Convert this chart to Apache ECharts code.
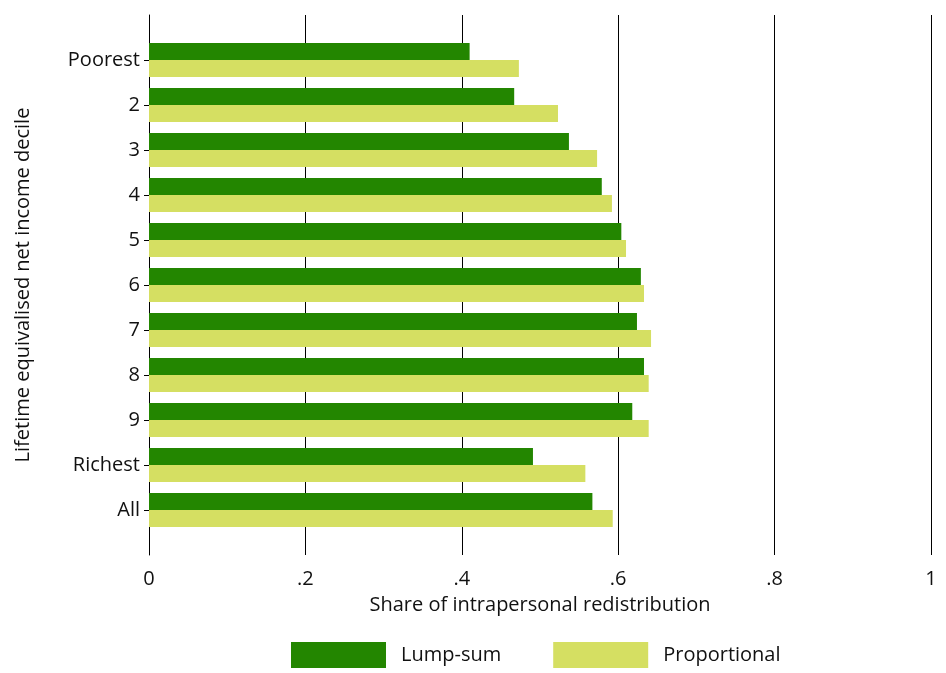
<!DOCTYPE html><html><head><meta charset="utf-8"><script src="https://cdn.jsdelivr.net/npm/echarts@6/dist/echarts.min.js"></script></head><body style="margin:0"><div id="c" style="width:946px;height:673px"></div><script>
const categories=['Poorest','2','3','4','5','6','7','8','9','Richest','All'];
const lumpSum=[0.410,0.467,0.537,0.579,0.604,0.629,0.624,0.633,0.618,0.491,0.567];
const proportional=[0.473,0.523,0.573,0.592,0.610,0.633,0.642,0.639,0.639,0.558,0.593];
const xTicks={0:'0',0.2:'.2',0.4:'.4',0.6:'.6',0.8:'.8',1:'1'};
const f='"Open Sans", sans-serif';
const cats=[''].concat(categories,['']);
const c=echarts.init(document.getElementById('c'));
c.setOption({
 animation:false,
 grid:{left:149,right:15,top:15,bottom:118},
 legend:{bottom:0,left:286,icon:'rect',itemWidth:95,itemHeight:26,itemGap:52,textStyle:{fontSize:20,color:'#111',fontFamily:f,padding:[0,0,0,10]},data:['Lump-sum','Proportional']},
 xAxis:{type:'value',min:0,max:1,interval:0.2,axisLine:{show:false},axisTick:{show:false},
  splitLine:{lineStyle:{color:'#000',width:1}},
  axisLabel:{fontSize:20,color:'#111',fontFamily:f,margin:14,formatter:v=>xTicks[Math.round(v*10)/10]??''},
  name:'Share of intrapersonal redistribution',nameLocation:'middle',nameGap:40,nameTextStyle:{fontSize:20,color:'#111',fontFamily:f}},
 yAxis:{type:'category',inverse:true,boundaryGap:false,data:cats,splitLine:{show:false},
  axisLine:{show:true,lineStyle:{color:'#000'}},
  axisTick:{show:true,length:5,lineStyle:{color:'#000'},interval:(i,v)=>v!==''},
  axisLabel:{fontSize:20,color:'#111',fontFamily:f,margin:9,interval:0},
  name:'Lifetime equivalised net income decile',nameLocation:'middle',nameGap:116,nameTextStyle:{fontSize:20,color:'#111',fontFamily:f}},
 series:[
  {name:'Lump-sum',type:'bar',barWidth:17,barGap:'0%',itemStyle:{color:'#238600'},data:[null].concat(lumpSum,[null])},
  {name:'Proportional',type:'bar',barWidth:17,barGap:'0%',itemStyle:{color:'#d5df62'},data:[null].concat(proportional,[null])}
 ]
});
</script></body></html>
